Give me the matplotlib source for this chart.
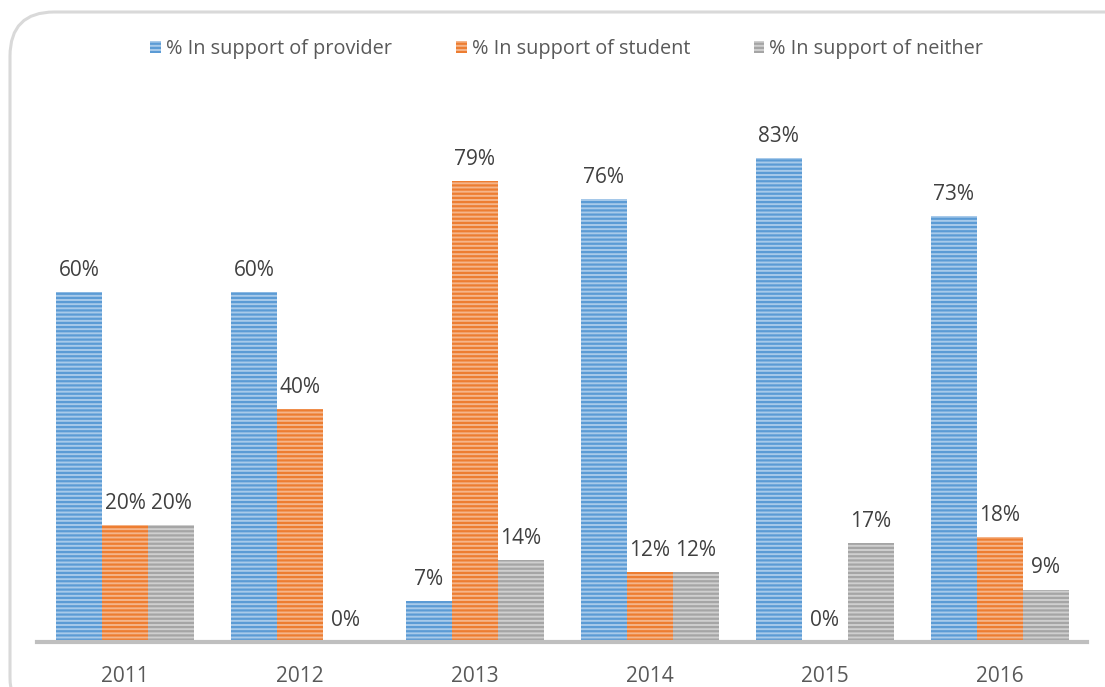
import matplotlib.pyplot as plt
import numpy as np
from matplotlib.patches import FancyBboxPatch

years = ['2011', '2012', '2013', '2014', '2015', '2016']
provider = [60, 60, 7, 76, 83, 73]
student = [20, 40, 79, 12, 0, 18]
neither = [20, 0, 14, 12, 17, 9]
series_names = ['% In support of provider', '% In support of student', '% In support of neither']

plt.rcParams['font.family'] = ['Open Sans', 'DejaVu Sans']
plt.rcParams['hatch.linewidth'] = 1.6

fig = plt.figure(figsize=(11.05, 6.87), dpi=100)
ax = fig.add_axes([0.0339, 0.0655, 0.9502, 0.764])

# rounded chart border running off the picture
border = FancyBboxPatch((10 / 1105, -0.05), 1.2, (675 / 687) + 0.05,
                        boxstyle='round,pad=0,rounding_size=0.04',
                        transform=fig.transFigure, facecolor='none',
                        edgecolor='#D9D9D9', linewidth=2.2, zorder=0,
                        mutation_aspect=1105 / 687)
fig.patches.append(border)

x = np.arange(len(years))
w = 0.263
colors = ['#5B9BD5', '#ED7D31', '#A5A5A5']
faces = ['#A8CAEA', '#F5B58A', '#CFCFCF']

for i, vals in enumerate([provider, student, neither]):
    pos = x + (i - 1) * w
    ax.bar(pos, vals, w, facecolor=faces[i], edgecolor=colors[i], hatch='----',
           linewidth=0, label=series_names[i])
    for p, v in zip(pos, vals):
        ax.text(p, v + 1.9, f'{v}%', ha='center', va='bottom', fontsize=15, color='#404040')

ax.set_xlim(-0.5, 5.5)
ax.set_ylim(0, 90)
ax.set_xticks(x)
ax.set_xticklabels(years, fontsize=15, color='#595959')
ax.set_yticks([])
ax.tick_params(axis='x', length=0, pad=17)
for s in ['top', 'right', 'left']:
    ax.spines[s].set_visible(False)
ax.spines['bottom'].set_color('#BFBFBF')
ax.spines['bottom'].set_linewidth(3)

leg = fig.legend(loc='center', bbox_to_anchor=(0.513, 1 - 49 / 687), ncol=3, frameon=False,
                 fontsize=14.3, handlelength=0.55, handleheight=0.55, handletextpad=0.25,
                 columnspacing=3.2)
for t in leg.get_texts():
    t.set_color('#595959')

fig.savefig('out.png', dpi=100)
